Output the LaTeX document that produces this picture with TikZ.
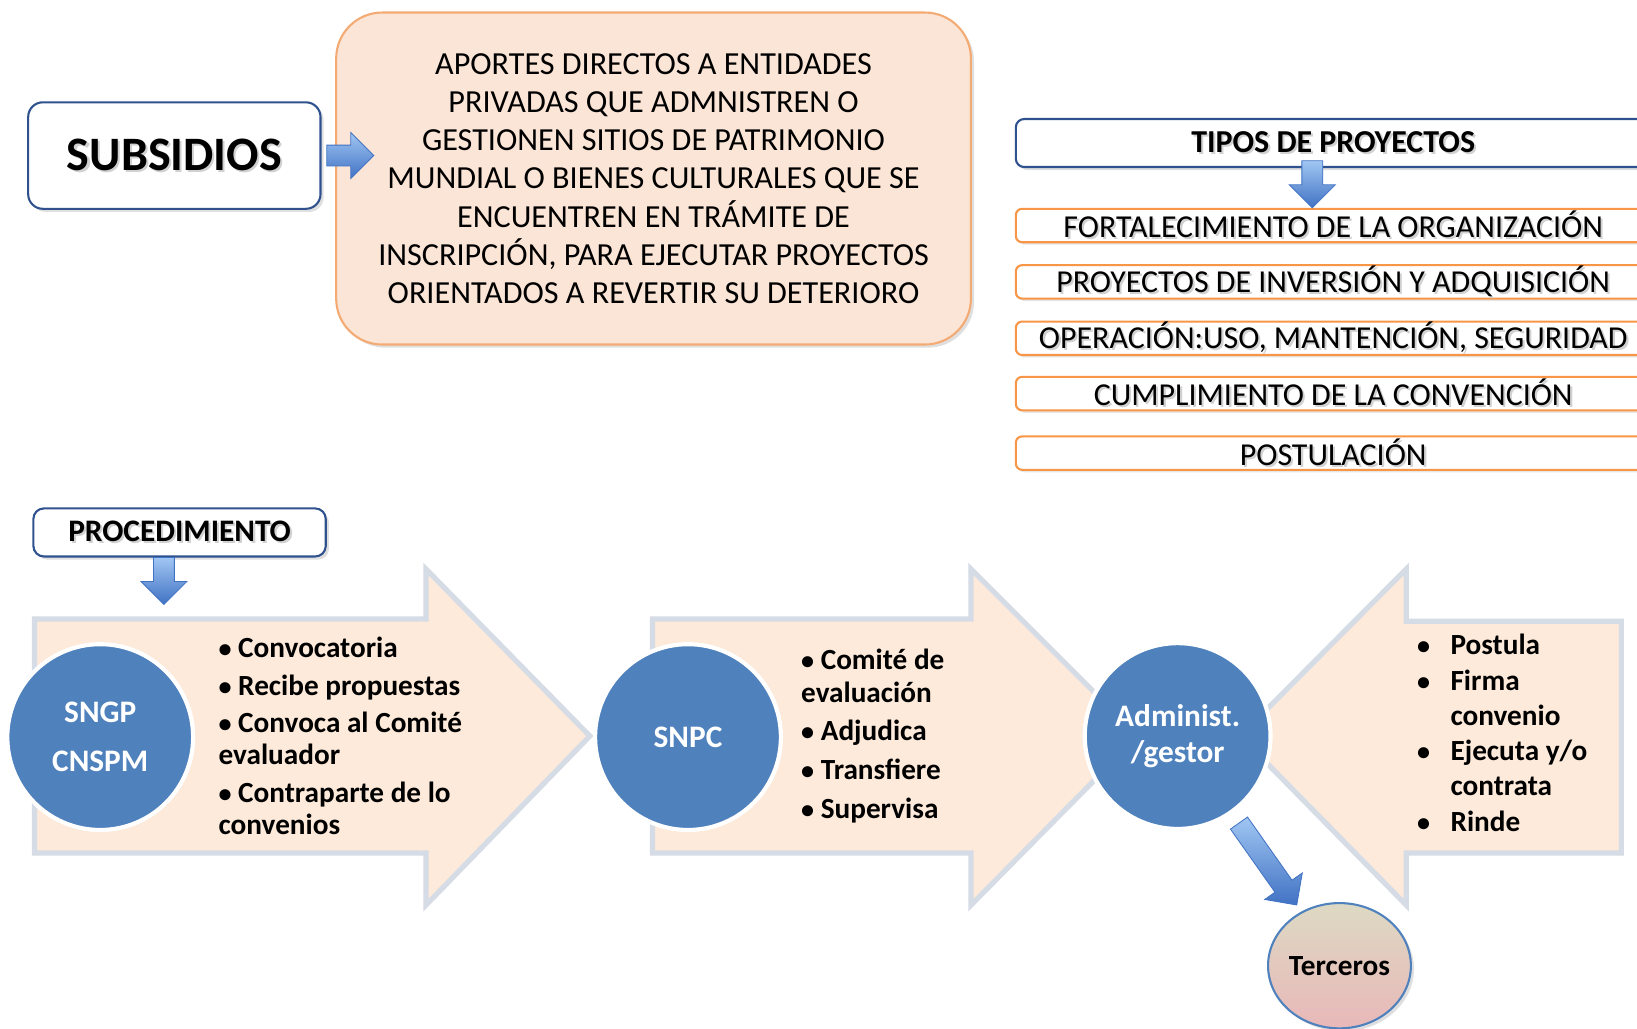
\documentclass[tikz,border=0pt]{standalone}
\usepackage{fontspec}
\setmainfont{Carlito}
\usetikzlibrary{shapes.geometric,shadows,calc}
\definecolor{navy}{RGB}{47,82,143}
\definecolor{peach}{RGB}{251,229,214}
\definecolor{peachlt}{RGB}{253,234,218}
\definecolor{orangeln}{RGB}{244,170,115}
\definecolor{orangebx}{RGB}{247,150,70}
\definecolor{greyblue}{RGB}{214,220,229}
\definecolor{circblue}{RGB}{79,129,189}
\definecolor{arrowtop}{RGB}{160,198,242}
\definecolor{arrowbot}{RGB}{65,114,196}
\definecolor{tertop}{RGB}{221,217,195}
\definecolor{terbot}{RGB}{232,184,184}
\newcommand{\shd}[1]{\leavevmode\rlap{\hspace{1pt}\raisebox{-1pt}{\textcolor{black!18}{#1}}}#1}
\newcommand{\bul}{{\fontsize{12.5pt}{12.5pt}\selectfont\textbullet}}
% blue block arrow: tail point, angle, length (px)
\newcommand{\bluearr}[3]{\begin{scope}[shift={#1},rotate=#2]
    \shade[blockarr] (0,-10)--({#3-22},-10)--({#3-22},-22)--(#3,0)--({#3-22},22)--({#3-22},10)--(0,10)--cycle;
  \end{scope}}

\begin{document}
\begin{tikzpicture}[x=0.5pt,y=-0.5pt,
    titlebox/.style={draw=navy,line width=1pt,fill=white,rounded corners=7pt,inner sep=0pt,
      drop shadow={shadow xshift=1.5pt,shadow yshift=-1.5pt,opacity=0.25}},
    typebox/.style={draw=orangebx,line width=1pt,fill=white,rounded corners=3pt,inner sep=0pt,
      minimum width=304pt,minimum height=16pt,font=\fontsize{15.3pt}{18pt}\selectfont,
      drop shadow={shadow xshift=1.2pt,shadow yshift=-1.2pt,opacity=0.2}},
    blockarr/.style={draw=arrowbot,line width=0.4pt,top color=arrowtop,bottom color=arrowbot,line join=miter},
    bigarrow/.style={fill=peachlt,draw=greyblue,line width=2.5pt,line join=miter},
    actor/.style={circle,fill=circblue,draw=white,line width=2pt,minimum size=89pt,inner sep=0pt,
      text=white,align=center,font=\bfseries\fontsize{15pt}{17pt}\selectfont},
    bullets/.style={anchor=west,align=left,inner sep=0pt,font=\bfseries\fontsize{14pt}{15.5pt}\selectfont}]
  \clip (0,0) rectangle (1568,985);

  % top left
  \node[draw=orangeln,line width=1pt,fill=peach,rounded corners=22pt,minimum width=304pt,minimum height=159pt,
    align=center,font=\fontsize{15.4pt}{18.3pt}\selectfont,
    drop shadow={shadow xshift=1.5pt,shadow yshift=-1.5pt,opacity=0.25}] (aportes) at (626,171)
    {APORTES DIRECTOS A ENTIDADES\\PRIVADAS QUE ADMNISTREN O\\GESTIONEN SITIOS DE PATRIMONIO\\
     MUNDIAL O BIENES CULTURALES QUE SE\\ENCUENTREN EN TRÁMITE DE\\
     INSCRIPCIÓN, PARA EJECUTAR PROYECTOS\\ORIENTADOS A REVERTIR SU DETERIORO};
  \node[titlebox,minimum width=140pt,minimum height=51pt,font=\bfseries\fontsize{23pt}{26pt}\selectfont]
    (subs) at (167,149) {\shd{SUBSIDIOS}};
  \bluearr{([xshift=2.5pt]subs.east)}{0}{45}

  % tipos de proyectos
  \node[titlebox,rounded corners=4pt,minimum width=304pt,minimum height=23pt,
    font=\bfseries\fontsize{15.3pt}{18pt}\selectfont] (tipos) at (1277,137) {\shd{TIPOS DE PROYECTOS}};
  \node[typebox] (fort) at (1277,216) {\shd{FORTALECIMIENTO DE LA ORGANIZACIÓN}};
  \node[typebox] (inver) at (1277,270) {\shd{PROYECTOS DE INVERSIÓN Y ADQUISICIÓN}};
  \node[typebox] (oper) at (1277,324) {\shd{OPERACIÓN:USO, MANTENCIÓN, SEGURIDAD}};
  \node[typebox] (cumpl) at (1277,377) {\shd{CUMPLIMIENTO DE LA CONVENCIÓN}};
  \node[typebox] (postu) at (1277,434) {\shd{POSTULACIÓN}};
  \bluearr{([xshift=-10pt,yshift=22.5pt]fort.north)}{-90}{45}

  % procedimiento
  \node[titlebox,rounded corners=5pt,minimum width=140pt,minimum height=23pt,
    font=\bfseries\fontsize{15pt}{18pt}\selectfont] (proc) at (172,510) {\shd{PROCEDIMIENTO}};
  \bluearr{([xshift=-7.5pt]proc.south)}{-90}{45}

  \draw[bigarrow] (33,593)--(408,593)--(408,545)--(565,705)--(408,867)--(408,817)--(33,817)--cycle;
  \draw[bigarrow] (625,593)--(930,593)--(930,545)--(1090,705)--(930,867)--(930,817)--(625,817)--cycle;
  \draw[bigarrow] (1553,595)--(1347,595)--(1347,545)--(1188,705)--(1347,867)--(1347,817)--(1553,817)--cycle;

  \node[actor,font=\bfseries\fontsize{15pt}{23.5pt}\selectfont] (sngp) at (96,706) {SNGP\\CNSPM};
  \node[actor] (snpc) at (659,706) {SNPC};
  \node[actor] (adm) at (1128,705) {Administ.\\/gestor};

  \node[bullets] (conv) at (209,705)
    {\bul\ Convocatoria\\[2.5pt]\bul\ Recibe propuestas\\[2.5pt]\bul\ Convoca al Comité\\
     evaluador\\[2.5pt]\bul\ Contraparte de lo\\convenios};
  \node[bullets] (comite) at (767,705)
    {\bul\ Comité de\\evaluación\\[3pt]\bul\ Adjudica\\[3pt]\bul\ Transfiere\\[3pt]\bul\ Supervisa};
  \node[bullets,font=\bfseries\fontsize{14pt}{16.9pt}\selectfont] (postula) at (1357,702)
    {\makebox[16pt][l]{\bul}Postula\\\makebox[16pt][l]{\bul}Firma\\\hspace*{16pt}convenio\\
     \makebox[16pt][l]{\bul}Ejecuta y/o\\\hspace*{16pt}contrata\\\makebox[16pt][l]{\bul}Rinde};

  \node[ellipse,draw=circblue,line width=1pt,top color=tertop,bottom color=terbot,minimum width=67pt,
    minimum height=60pt,inner sep=0pt,font=\bfseries\fontsize{14pt}{16pt}\selectfont,
    drop shadow={shadow xshift=1.5pt,shadow yshift=-1.5pt,opacity=0.25}] (terc) at (1283,925) {Terceros};
  \bluearr{($(adm)!51pt!(terc)$)}{-54.8}{96}
\end{tikzpicture}
\end{document}
